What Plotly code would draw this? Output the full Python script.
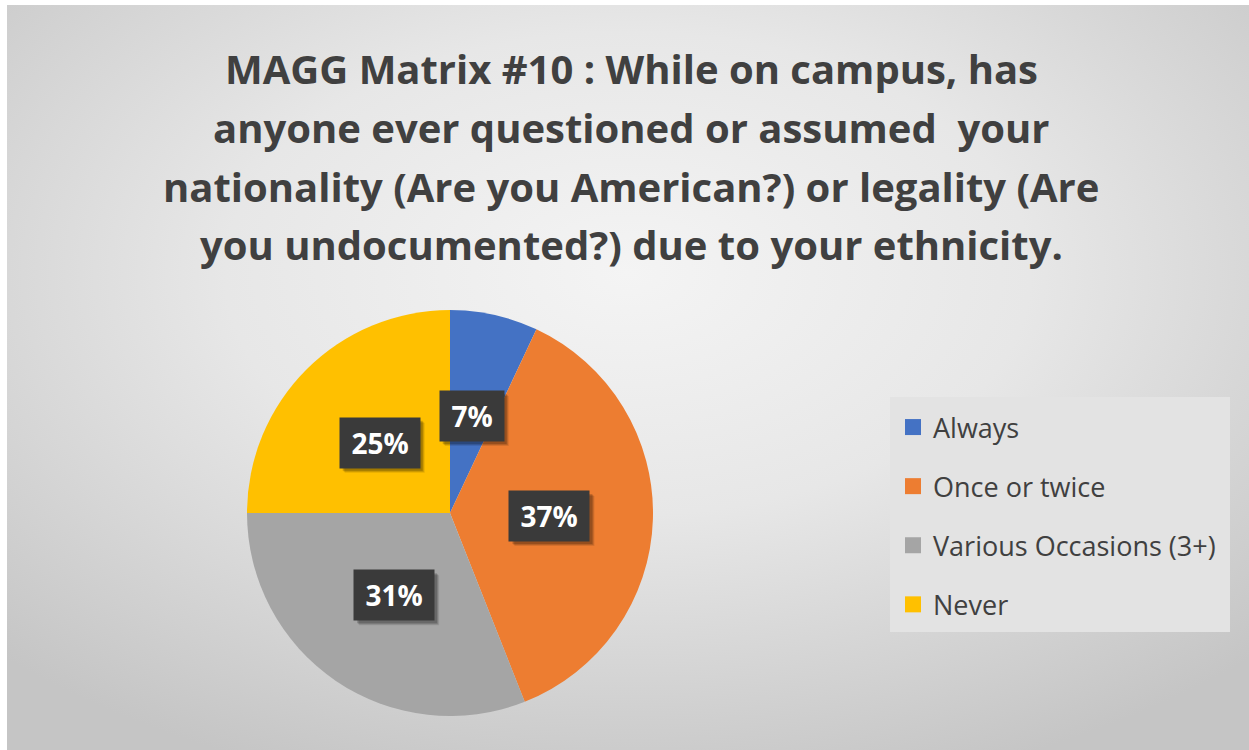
import base64
import math
import plotly.graph_objects as go

# Survey responses
categories = ["Always", "Once or twice", "Various Occasions (3+)", "Never"]
shares = [7, 37, 31, 25]
colors = ["#4472C4", "#ED7D31", "#A5A5A5", "#FFC000"]

title_lines = [
    "MAGG Matrix #10 : While on campus, has",
    "anyone ever questioned or assumed  your",
    "nationality (Are you American?) or legality (Are",
    "you undocumented?) due to your ethnicity.",
]

W, H = 1249, 750
TEXT_DARK = "#404040"

# Pie placement (pixels)
pie_cx, pie_cy, pie_r = 450, 513, 203

# Soft radial-gradient backdrop drawn as an SVG image
bg_svg = """<svg xmlns='http://www.w3.org/2000/svg' width='1242' height='745' preserveAspectRatio='none' viewBox='0 0 1242 745'>
<defs><radialGradient id='g' cx='0.5' cy='0.36' r='0.72'>
<stop offset='0' stop-color='#f4f4f4'/>
<stop offset='0.45' stop-color='#e7e7e7'/>
<stop offset='1' stop-color='#c5c5c5'/>
</radialGradient></defs>
<rect width='1242' height='745' fill='url(#g)'/>
</svg>"""
bg_uri = "data:image/svg+xml;base64," + base64.b64encode(bg_svg.encode()).decode()

fig = go.Figure()

fig.add_trace(go.Pie(
    labels=categories,
    values=shares,
    marker=dict(colors=colors, line=dict(width=0)),
    sort=False,
    direction="clockwise",
    rotation=0,
    textinfo="none",
    showlegend=False,
    domain=dict(
        x=[(pie_cx - pie_r) / W, (pie_cx + pie_r) / W],
        y=[(H - pie_cy - pie_r) / H, (H - pie_cy + pie_r) / H],
    ),
))

# Legend entries, one group each so the groups can be spaced apart
for name, col in zip(categories, colors):
    fig.add_trace(go.Scatter(
        x=[None], y=[None], mode="markers", name=name, legendgroup=name,
        marker=dict(symbol="square", size=16, color=col),
    ))

annotations = []
shapes = [
    # legend panel
    dict(type="rect", xref="paper", yref="paper",
         x0=890 / W, x1=1230 / W, y0=1 - 632 / H, y1=1 - 397 / H,
         fillcolor="#e3e3e3", line=dict(width=0), layer="below"),
]

# Title, one annotation per line
for i, line in enumerate(title_lines):
    annotations.append(dict(
        text=f"<b>{line}</b>", xref="paper", yref="paper",
        x=631 / W, y=1 - (69 + 58.5 * i) / H, xanchor="center", yanchor="middle",
        showarrow=False, font=dict(family="Open Sans", size=40, color=TEXT_DARK),
    ))

# Percentage labels at mid-angle of each slice, in dark boxes with a soft shadow
total = sum(shares)
cum = 0
label_r = 0.49 * pie_r
for v in shares:
    mid = (cum + v / 2) / total * 2 * math.pi
    cum += v
    px = pie_cx + label_r * math.sin(mid)
    py = pie_cy - label_r * math.cos(mid)
    txt = f"{round(v / total * 100)}%"
    bw, bh = 16 * len(txt) + 32, 50
    for off, alpha in ((5, 0.10), (4, 0.14), (3, 0.18)):
        shapes.append(dict(
            type="rect", xref="paper", yref="paper", layer="above",
            x0=(px - bw / 2 + off) / W, x1=(px + bw / 2 + off) / W,
            y0=1 - (py + bh / 2 + off) / H, y1=1 - (py - bh / 2 + off) / H,
            fillcolor=f"rgba(0,0,0,{alpha})", line=dict(width=0),
        ))
    annotations.append(dict(
        text=f"<b>{txt}</b>", xref="paper", yref="paper", x=px / W, y=1 - py / H,
        xanchor="center", yanchor="middle", showarrow=False,
        width=bw - 2, height=bh - 2, align="center", valign="middle",
        bgcolor="#3a3a3a",
        font=dict(family="Open Sans", size=28, color="white"),
    ))

fig.update_layout(
    width=W, height=H,
    margin=dict(l=0, r=0, t=0, b=0),
    paper_bgcolor="white",
    plot_bgcolor="rgba(0,0,0,0)",
    xaxis=dict(visible=False),
    yaxis=dict(visible=False),
    images=[dict(source=bg_uri, xref="paper", yref="paper",
                 x=7 / W, y=1 - 5 / H, sizex=1 - 7 / W, sizey=1 - 5 / H,
                 xanchor="left", yanchor="top", sizing="stretch", layer="below")],
    shapes=shapes,
    annotations=annotations,
    legend=dict(
        x=893 / W, y=1 - 403 / H, xanchor="left", yanchor="top",
        bgcolor="rgba(0,0,0,0)", borderwidth=0,
        font=dict(family="Open Sans", size=27, color=TEXT_DARK),
        tracegroupgap=21, itemclick=False,
    ),
)

fig.write_html("out.html")
